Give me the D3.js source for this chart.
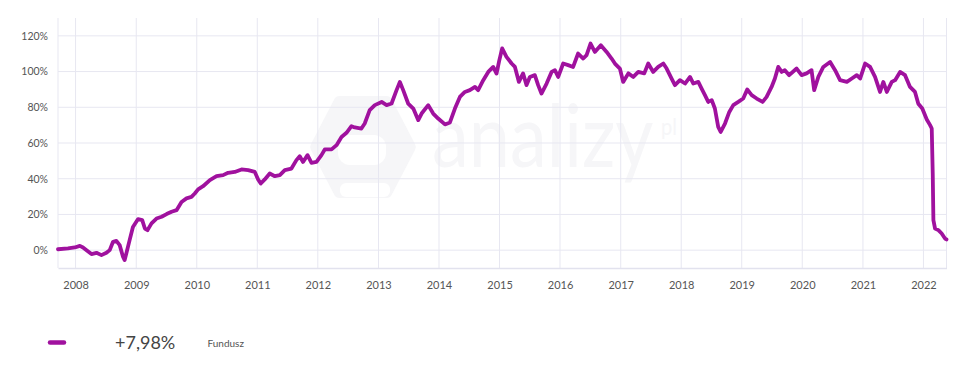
<!DOCTYPE html>
<html>
<head>
<meta charset="utf-8">
<script src="https://cdn.jsdelivr.net/npm/d3@7/dist/d3.min.js"></script>
<style>
  html, body { margin: 0; padding: 0; background: #ffffff; }
  svg { display: block; }
</style>
</head>
<body>
<svg id="chart" width="959" height="368"></svg>
<script>
// ---- data ----
const dates = [
  "2007-09-17","2007-11-16","2007-12-27","2008-01-27","2008-02-15","2008-03-07","2008-04-06","2008-05-06",
  "2008-06-05","2008-07-05","2008-07-25","2008-08-14","2008-09-03","2008-09-23","2008-10-13","2008-10-23",
  "2008-11-02","2008-11-22","2008-12-12","2009-01-12","2009-02-06","2009-02-22","2009-03-10","2009-04-03",
  "2009-05-03","2009-06-03","2009-07-03","2009-08-02","2009-09-01","2009-10-01","2009-10-31","2009-11-30",
  "2009-12-20","2010-01-09","2010-02-08","2010-03-21","2010-04-30","2010-06-09","2010-07-09","2010-08-18",
  "2010-09-28","2010-11-07","2010-12-17","2011-01-06","2011-01-22","2011-02-15","2011-03-17","2011-04-17",
  "2011-05-17","2011-06-16","2011-07-26","2011-08-25","2011-09-14","2011-10-04","2011-10-31","2011-11-24",
  "2011-12-24","2012-01-23","2012-02-12","2012-03-24","2012-04-23","2012-05-23","2012-06-22","2012-07-22",
  "2012-08-11","2012-09-20","2012-10-10","2012-11-09","2012-12-10","2013-01-20","2013-02-19","2013-03-21",
  "2013-04-20","2013-05-10","2013-05-30","2013-06-29","2013-07-30","2013-08-29","2013-09-18","2013-10-28",
  "2013-11-27","2013-12-27","2014-02-06","2014-03-08","2014-04-07","2014-05-07","2014-06-06","2014-07-06",
  "2014-08-06","2014-08-25","2014-09-25","2014-10-25","2014-11-24","2014-12-14","2014-12-30","2015-01-17",
  "2015-02-12","2015-03-15","2015-04-04","2015-04-28","2015-05-23","2015-06-13","2015-07-03","2015-08-02",
  "2015-08-22","2015-09-11","2015-10-12","2015-11-11","2015-12-01","2015-12-21","2016-01-20","2016-02-19",
  "2016-03-20","2016-04-19","2016-05-20","2016-06-09","2016-07-03","2016-07-29","2016-09-03","2016-10-08",
  "2016-11-07","2016-11-27","2016-12-27","2017-01-16","2017-02-16","2017-03-18","2017-04-17","2017-05-23",
  "2017-06-16","2017-07-16","2017-08-15","2017-09-15","2017-10-05","2017-11-04","2017-11-24","2017-12-24",
  "2018-01-24","2018-02-23","2018-03-15","2018-04-14","2018-05-04","2018-05-24","2018-06-13","2018-07-04",
  "2018-07-23","2018-08-12","2018-08-27","2018-09-22","2018-10-18","2018-11-11","2018-12-11","2019-01-10",
  "2019-02-03","2019-03-02","2019-04-01","2019-05-07","2019-05-31","2019-06-30","2019-07-20","2019-08-09",
  "2019-08-30","2019-09-18","2019-10-14","2019-11-28","2019-12-28","2020-01-27","2020-02-26","2020-03-13",
  "2020-04-07","2020-05-07","2020-06-17","2020-07-17","2020-08-16","2020-09-26","2020-10-26","2020-11-25",
  "2020-12-15","2021-01-14","2021-02-13","2021-03-15","2021-04-14","2021-05-04","2021-05-25","2021-06-24",
  "2021-07-14","2021-08-13","2021-09-12","2021-10-12","2021-11-11","2021-12-01","2021-12-25","2022-01-21",
  "2022-02-10","2022-02-20","2022-02-26","2022-03-02","2022-03-12","2022-04-01","2022-04-21","2022-05-11",
  "2022-05-20"
];
const values = [
  0.5, 1.0, 1.5, 2.4, 1.5, 0.0, -2.2, -1.5,
  -2.8, -1.5, 0.0, 4.7, 5.2, 2.8, -3.7, -5.6,
  -1.9, 5.6, 13.0, 17.4, 16.8, 12.1, 11.2, 15.0,
  17.7, 18.7, 20.2, 21.5, 22.4, 27.0, 29.0, 29.8,
  31.7, 34.0, 35.8, 39.2, 41.4, 42.0, 43.3, 43.8,
  45.2, 44.8, 43.8, 39.6, 37.3, 39.6, 42.9, 41.4,
  42.0, 44.8, 45.7, 50.4, 52.6, 49.4, 53.2, 48.9,
  49.4, 53.2, 56.4, 56.4, 58.8, 63.4, 65.7, 69.4,
  68.7, 68.1, 70.9, 78.4, 81.2, 83.0, 81.2, 82.1,
  89.6, 94.2, 89.6, 82.1, 79.3, 72.8, 76.5, 81.2,
  76.5, 73.7, 70.4, 71.5, 79.3, 85.8, 88.6, 89.6,
  91.4, 89.6, 95.2, 99.8, 102.6, 98.9, 106.0, 113.0,
  108.2, 104.5, 102.6, 94.2, 99.0, 92.4, 97.0, 98.0,
  92.4, 87.7, 93.3, 99.8, 100.8, 97.0, 104.5, 103.6,
  102.6, 110.1, 107.3, 109.2, 115.7, 111.0, 114.8, 111.0,
  107.3, 104.5, 101.7, 94.2, 99.0, 97.0, 99.8, 99.0,
  104.5, 99.8, 102.6, 104.5, 101.7, 96.1, 92.4, 95.2,
  93.3, 97.0, 93.3, 94.2, 90.5, 86.8, 83.0, 84.0,
  79.3, 69.0, 66.2, 70.9, 77.4, 81.2, 83.0, 84.9,
  90.0, 86.8, 84.9, 83.0, 85.8, 91.4, 96.1, 102.6,
  99.8, 100.8, 98.0, 101.7, 98.0, 99.0, 100.8, 89.6,
  97.0, 102.6, 105.4, 100.8, 95.2, 94.2, 96.1, 98.0,
  96.1, 104.5, 102.6, 97.0, 88.6, 94.2, 88.6, 94.2,
  95.2, 99.8, 98.0, 91.4, 88.6, 82.0, 79.3, 73.2,
  70.0, 68.1, 42.9, 16.8, 12.1, 11.2, 9.3, 6.5,
  6.0
];
const yTicks = [0, 20, 40, 60, 80, 100, 120];
const yDomain = [-10, 130];
const seriesName = "Fundusz";
const legendValue = "+7,98%";

// ---- chart ----
const svg = d3.select("#chart");
const plot = { left: 58, right: 946.5, top: 18, bottom: 268 };

const parse = d3.timeParse("%Y-%m-%d");
const data = dates.map((d, i) => ({ date: parse(d), value: values[i] }));

const x = d3.scaleTime()
  .domain(d3.extent(data, d => d.date))
  .range([plot.left, plot.right]);
const y = d3.scaleLinear()
  .domain(yDomain)
  .range([plot.bottom, plot.top]);

const gridColor = "#e7e7f1";
const font = "Lato, 'Open Sans', sans-serif";
const wmColor = "#f6f6f8";

// watermark (analizy.pl logo)
const wm = svg.append("g").attr("fill", wmColor);
const hx = 363, hy = 147, hr = 52;
const hex = d3.range(6).map(i => {
  const a = Math.PI / 3 * i;
  return [hx + hr * Math.cos(a) * 0.9, hy + hr * Math.sin(a)];
});
wm.append("path")
  .attr("d", d3.line().curve(d3.curveLinearClosed)(hex))
  .attr("stroke", wmColor).attr("stroke-width", 12).attr("stroke-linejoin", "round");
wm.append("rect").attr("x", 338).attr("y", 135).attr("width", 48).attr("height", 30)
  .attr("rx", 12).attr("fill", "#ffffff");
wm.append("rect").attr("x", 340).attr("y", 183).attr("width", 50).attr("height", 14)
  .attr("rx", 6).attr("fill", "#ffffff");
const wmText = wm.append("text")
  .attr("transform", "translate(432,167) scale(0.84,1)")
  .attr("font-family", "Lato, sans-serif").attr("font-size", 88);
wmText.append("tspan").text("analizy");
wmText.append("tspan").attr("dx", 9).attr("dy", -32).attr("font-size", 24).text("pl");

// horizontal gridlines
svg.append("g").selectAll("line")
  .data(yTicks)
  .join("line")
  .attr("x1", plot.left).attr("x2", plot.right)
  .attr("y1", d => y(d)).attr("y2", d => y(d))
  .attr("stroke", gridColor).attr("stroke-width", 1);

// vertical gridlines at each year
const years = x.ticks(d3.timeYear.every(1));
svg.append("g").selectAll("line")
  .data(years)
  .join("line")
  .attr("x1", d => x(d)).attr("x2", d => x(d))
  .attr("y1", plot.top).attr("y2", plot.bottom)
  .attr("stroke", gridColor).attr("stroke-width", 1);

// frame: left, right
svg.append("line").attr("x1", plot.left).attr("x2", plot.left)
  .attr("y1", plot.top).attr("y2", plot.bottom).attr("stroke", gridColor);
svg.append("line").attr("x1", plot.right).attr("x2", plot.right)
  .attr("y1", plot.top).attr("y2", plot.bottom).attr("stroke", gridColor);

// x axis
const xAxis = d3.axisBottom(x)
  .ticks(d3.timeYear.every(1))
  .tickFormat(d3.timeFormat("%Y"))
  .tickSize(0).tickPadding(13);
const gx = svg.append("g").attr("transform", `translate(0,${plot.bottom})`).call(xAxis);
gx.select(".domain").attr("stroke", "#e2e2ee").attr("stroke-width", 1.5);
gx.selectAll("text").attr("font-family", font).attr("font-size", 11).attr("fill", "#555");

// y axis
const yAxis = d3.axisLeft(y)
  .tickValues(yTicks)
  .tickFormat(d => d + "%")
  .tickSize(0).tickPadding(10);
const gy = svg.append("g").attr("transform", `translate(${plot.left},0)`).call(yAxis);
gy.select(".domain").remove();
gy.selectAll("text").attr("font-family", font).attr("font-size", 10.5).attr("fill", "#555");

// series line
const line = d3.line()
  .x(d => x(d.date))
  .y(d => y(d.value));
svg.append("path")
  .datum(data)
  .attr("d", line)
  .attr("fill", "none")
  .attr("stroke", "#a0119e")
  .attr("stroke-width", 3.8)
  .attr("stroke-linejoin", "round")
  .attr("stroke-linecap", "round");

// legend
const lg = svg.append("g");
lg.append("line").attr("x1", 50).attr("x2", 64).attr("y1", 342.5).attr("y2", 342.5)
  .attr("stroke", "#a0119e").attr("stroke-width", 4.5).attr("stroke-linecap", "round");
lg.append("text").attr("x", 115).attr("y", 349.3)
  .attr("font-family", font).attr("font-size", 18).attr("fill", "#444")
  .text(legendValue);
lg.append("text").attr("x", 207.5).attr("y", 346.7)
  .attr("font-family", font).attr("font-size", 10).attr("fill", "#555")
  .text(seriesName);
</script>
</body>
</html>
